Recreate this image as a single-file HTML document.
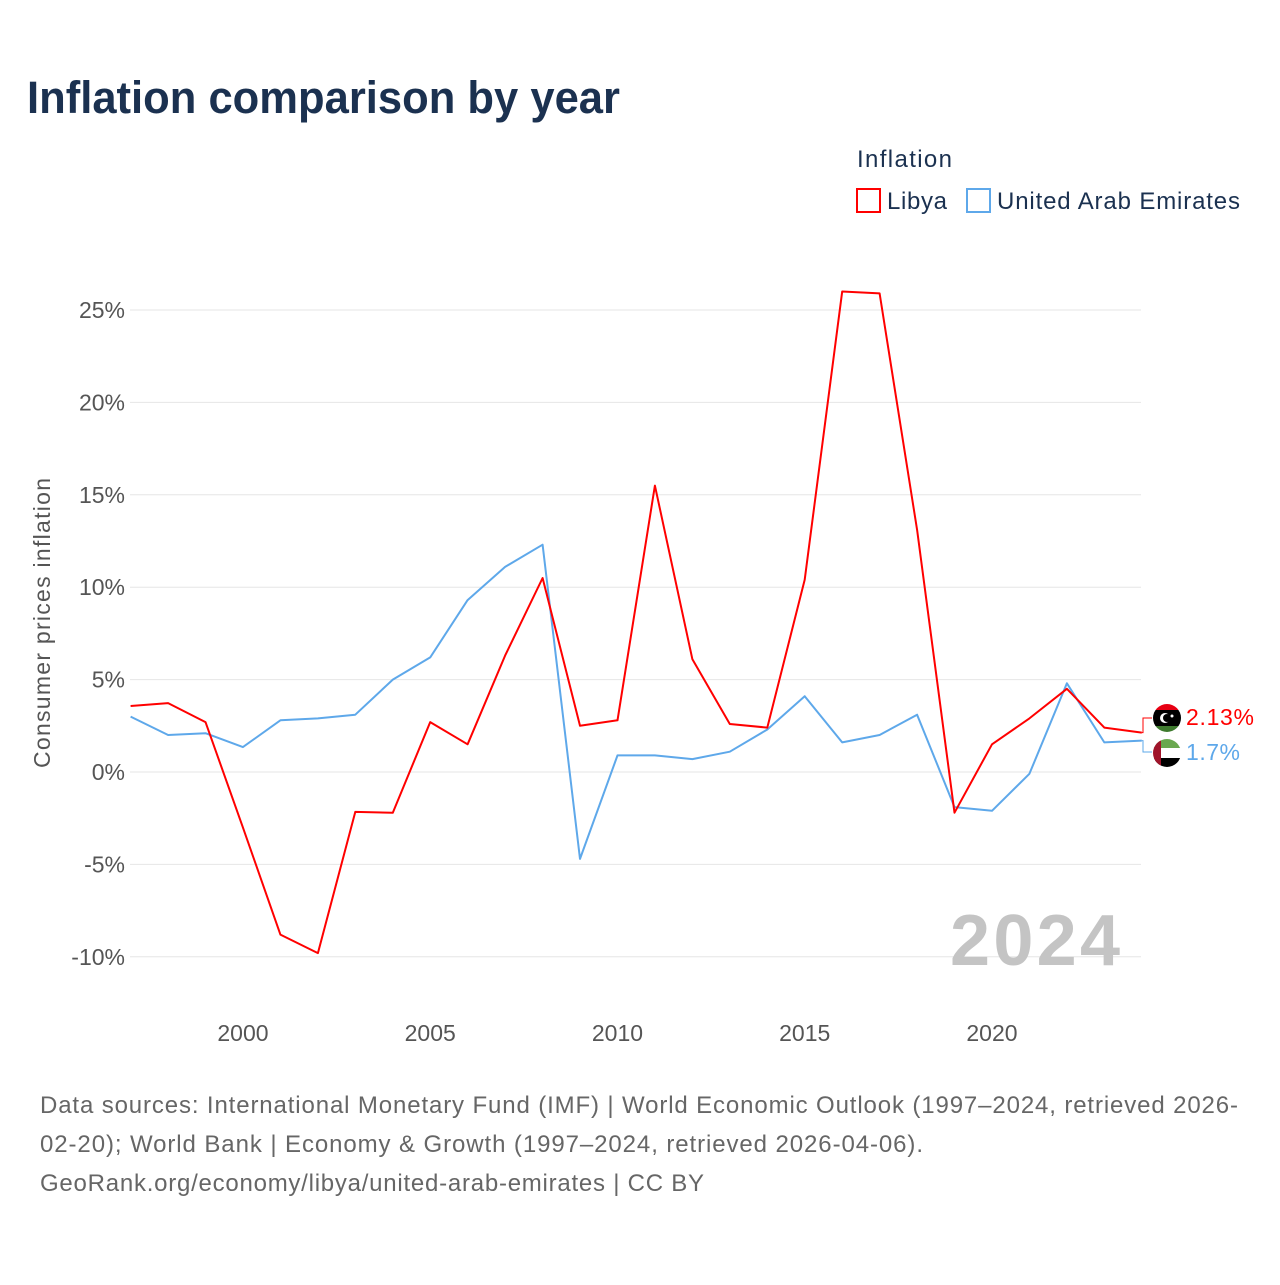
<!DOCTYPE html>
<html><head><meta charset="utf-8"><style>
body{margin:0;background:#fff;font-family:"Liberation Sans",sans-serif;}
</style></head><body>
<svg width="1280" height="1280" xmlns="http://www.w3.org/2000/svg">
<rect width="1280" height="1280" fill="#fff"/>
<text x="27" y="113" font-size="45" font-weight="bold" fill="#1b3150" textLength="593" lengthAdjust="spacingAndGlyphs">Inflation comparison by year</text>
<text x="857" y="167" font-size="24" fill="#1b3150" textLength="95">Inflation</text>
<g><rect x="857" y="189" width="23" height="23" fill="none" stroke="#f00" stroke-width="2"/><text x="887" y="209" font-size="24" fill="#1b3150" textLength="60">Libya</text></g>
<g><rect x="967" y="189" width="23" height="23" fill="none" stroke="#5ea8ea" stroke-width="2"/><text x="997" y="209" font-size="24" fill="#1b3150" textLength="243">United Arab Emirates</text></g>
<g id="grid"></g>
<text x="1120" y="965" font-size="72" font-weight="bold" fill="#c4c4c4" text-anchor="end" textLength="170">2024</text>
<text transform="translate(50,623) rotate(-90)" font-size="23" fill="#555" text-anchor="middle" textLength="290">Consumer prices inflation</text>
<g id="plot"></g>
<g>
<clipPath id="c1"><circle cx="1167" cy="718" r="14"/></clipPath>
<g clip-path="url(#c1)"><rect x="1150" y="700" width="34" height="10" fill="#e70013"/><rect x="1150" y="710" width="34" height="16" fill="#000"/><rect x="1150" y="726" width="34" height="10" fill="#3e7a2e"/>
<circle cx="1165" cy="718" r="5" fill="#fff"/><circle cx="1167" cy="718" r="4" fill="#000"/><circle cx="1172" cy="716" r="1.5" fill="#fff"/></g></g>
<g>
<clipPath id="c2"><circle cx="1167" cy="753" r="14"/></clipPath>
<g clip-path="url(#c2)"><rect x="1150" y="738" width="34" height="10" fill="#6aa84f"/><rect x="1150" y="748" width="34" height="10" fill="#fff"/><rect x="1150" y="758" width="34" height="10" fill="#000"/><rect x="1150" y="738" width="11" height="30" fill="#a0142a"/></g></g>
<text x="1186" y="725" font-size="23" fill="#f00" textLength="68">2.13%</text>
<text x="1186" y="760" font-size="23" fill="#5ea8ea" textLength="54">1.7%</text>
<text font-size="24" fill="#666">
<tspan x="40" y="1113" textLength="1198">Data sources: International Monetary Fund (IMF) | World Economic Outlook (1997–2024, retrieved 2026-</tspan>
<tspan x="40" y="1152" textLength="883">02-20); World Bank | Economy &amp; Growth (1997–2024, retrieved 2026-04-06).</tspan>
<tspan x="40" y="1191" textLength="664">GeoRank.org/economy/libya/united-arab-emirates | CC BY</tspan></text>
</svg>
<script>
const years=[1997,1998,1999,2000,2001,2002,2003,2004,2005,2006,2007,2008,2009,2010,2011,2012,2013,2014,2015,2016,2017,2018,2019,2020,2021,2022,2023,2024];
const libya=[3.57,3.73,2.7,-3.0,-8.8,-9.8,-2.16,-2.2,2.7,1.5,6.3,10.5,2.5,2.8,15.5,6.1,2.6,2.4,10.4,26.0,25.9,13.1,-2.2,1.5,2.9,4.5,2.4,2.13];
const uae=[3.0,2.0,2.1,1.35,2.8,2.9,3.1,5.0,6.2,9.3,11.1,12.3,-4.7,0.9,0.9,0.7,1.1,2.3,4.1,1.6,2.0,3.1,-1.9,-2.1,-0.1,4.8,1.6,1.7];
const yTicks=[-10,-5,0,5,10,15,20,25];
const xTicks=[2000,2005,2010,2015,2020];
const NS="http://www.w3.org/2000/svg";
const xs=y=>130.6+(y-1997)*37.45;
const ys=v=>772-v*18.48;
const grid=document.getElementById('grid'),plot=document.getElementById('plot');
function mk(tag,attrs,parent,txt){const e=document.createElementNS(NS,tag);for(const k in attrs)e.setAttribute(k,attrs[k]);if(txt!==undefined)e.textContent=txt;parent.appendChild(e);return e;}
yTicks.forEach(t=>{
 const l=mk('line',{x1:130,x2:1141,y1:ys(t),y2:ys(t),stroke:'#e6e6e6','stroke-width':1},grid);
 
 
 const tx=mk('text',{x:125,y:ys(t)+8,'font-size':23,fill:'#555','text-anchor':'end'},grid,t+'%');
 
 
});
xTicks.forEach(t=>{
 const tx=mk('text',{x:xs(t),y:1041,'font-size':23,fill:'#555','text-anchor':'middle'},grid,String(t));
 
 
});
function line(vals,color,name){
 const d=vals.map((v,i)=>(i?'L':'M')+xs(years[i]).toFixed(1)+','+ys(v).toFixed(1)).join('');
 const p=mk('path',{d:d,fill:'none',stroke:color,'stroke-width':2,'stroke-linejoin':'round'},plot);
 
 
}
line(uae,'#5ea8ea','uae-line');
line(libya,'#f00','libya-line');
const lastX=xs(years[years.length-1]);
const c1=mk('path',{d:`M${lastX},${ys(libya[libya.length-1])}H1143V718H1152`,fill:'none',stroke:'#f00','stroke-width':1},plot);


const c2=mk('path',{d:`M${lastX},${ys(uae[uae.length-1])}H1143V752H1152`,fill:'none',stroke:'#5ea8ea','stroke-width':1},plot);


</script>
</body></html>
